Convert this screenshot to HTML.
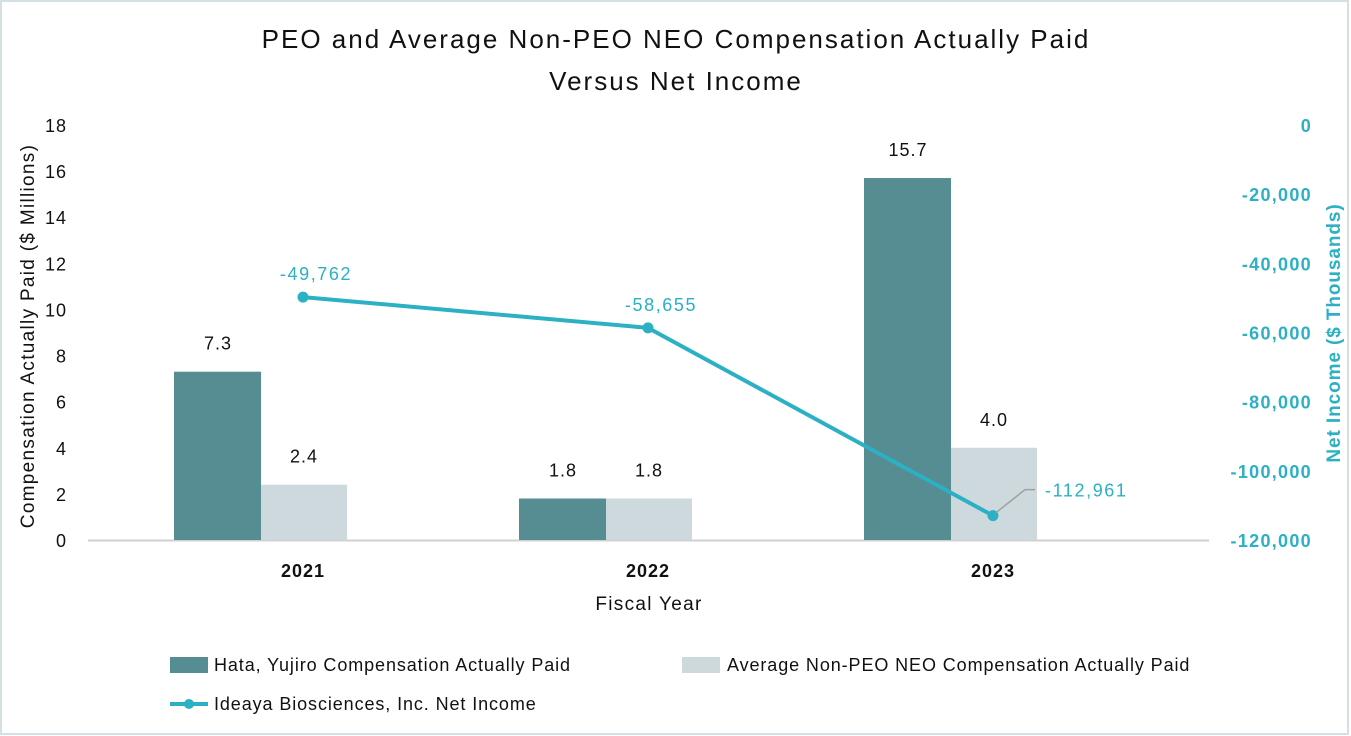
<!DOCTYPE html>
<html><head><meta charset="utf-8"><style>
body{margin:0;background:#fff;}
svg{display:block;font-family:"Liberation Sans",Arial,sans-serif;}
</style></head><body>
<svg id="chart" width="1351" height="736">
<rect x="1" y="1" width="1347" height="733" fill="#fff" stroke="#d5e0e4" stroke-width="2"/>
<text x="676" y="48" text-anchor="middle" font-size="26" letter-spacing="2" fill="#111">PEO and Average Non-PEO NEO Compensation Actually Paid</text>
<text x="676" y="90" text-anchor="middle" font-size="26" letter-spacing="2" fill="#111">Versus Net Income</text>
<g id="plot"></g>
<text x="0" y="0" transform="translate(34,336) rotate(-90)" text-anchor="middle" font-size="19" letter-spacing="1.3" fill="#111">Compensation Actually Paid ($ Millions)</text>
<text x="0" y="0" transform="translate(1340,333) rotate(-90)" text-anchor="middle" font-size="19" letter-spacing="0.9" font-weight="bold" fill="#2bb0c4">Net Income ($ Thousands)</text>
<text x="649" y="610" text-anchor="middle" font-size="19" letter-spacing="1.3" fill="#111">Fiscal Year</text>
<g font-size="18" letter-spacing="0.9">
<rect x="170" y="657" width="38" height="16" fill="#568d93"/>
<text x="214" y="671" fill="#111">Hata, Yujiro Compensation Actually Paid</text>
<rect x="682" y="657" width="38" height="16" fill="#cdd9dd"/>
<text x="727" y="671" fill="#111">Average Non-PEO NEO Compensation Actually Paid</text>
<line x1="170" y1="704" x2="208" y2="704" stroke="#2bb0c4" stroke-width="4"/>
<circle cx="189" cy="704" r="5" fill="#2bb0c4"/>
<text x="214" y="710" fill="#111">Ideaya Biosciences, Inc.  Net Income</text>
</g>
</svg>
<script>
const categories=["2021","2022","2023"];
const peoValues=[7.3,1.8,15.7];
const neoValues=[2.4,1.8,4.0];
const netIncome=[-49762,-58655,-112961];
const leftTicks=[0,2,4,6,8,10,12,14,16,18];
const rightTicks=[0,-20000,-40000,-60000,-80000,-100000,-120000];
const NS="http://www.w3.org/2000/svg";
const g=document.getElementById("plot");
function yL(v){return 540-v*(415/18);}
function yR(v){return 125+(-v)*(415/120000);}
function xC(i){return 303+345*i;}
function mk(t,a,txt){const e=document.createElementNS(NS,t);for(const k in a)e.setAttribute(k,a[k]);if(txt!=null)e.textContent=txt;g.appendChild(e);return e;}
leftTicks.forEach(v=>{const e=mk("text",{x:67,y:yL(v)+7,"text-anchor":"end","font-size":18,"letter-spacing":1,fill:"#111"},String(v));

});
rightTicks.forEach(v=>{const e=mk("text",{x:1312,y:yR(v)+7,"text-anchor":"end","font-size":18,"letter-spacing":1.3,"font-weight":"bold",fill:"#2bb0c4"},v.toLocaleString("en-US"));

});
const base=mk("line",{x1:88,y1:540.5,x2:1209,y2:540.5,stroke:"#d0d0d0","stroke-width":2});


categories.forEach((c,i)=>{
 const x=xC(i);
 const b1=mk("rect",{x:x-129,y:yL(peoValues[i]),width:87,height:540-yL(peoValues[i]),fill:"#568d93"});
 
 
 const b2=mk("rect",{x:x-42,y:yL(neoValues[i]),width:86,height:540-yL(neoValues[i]),fill:"#cdd9dd"});
 
 
 const l1=mk("text",{x:x-85,y:yL(peoValues[i])-22,"text-anchor":"middle","font-size":18,"letter-spacing":1,fill:"#111"},peoValues[i].toFixed(1));
 
 
 const l2=mk("text",{x:x+1,y:yL(neoValues[i])-22,"text-anchor":"middle","font-size":18,"letter-spacing":1,fill:"#111"},neoValues[i].toFixed(1));
 
 
 const xl=mk("text",{x:x,y:577,"text-anchor":"middle","font-size":18,"letter-spacing":1,"font-weight":"bold",fill:"#111"},c);
 
 
});
const pts=netIncome.map((v,i)=>xC(i)+","+yR(v)).join(" ");
const pl=mk("polyline",{points:pts,fill:"none",stroke:"#2bb0c4","stroke-width":4,"stroke-linejoin":"round"});


netIncome.forEach((v,i)=>{
 const x=xC(i),y=yR(v);
 const c=mk("circle",{cx:x,cy:y,r:5.5,fill:"#2bb0c4"});
 
 
 let lx=x+13,ly=y-17,anchor="middle";
 if(i===netIncome.length-1){
  const ld=mk("polyline",{points:`${x+3},${y-3} ${x+32},${y-26} ${x+42},${y-26}`,fill:"none",stroke:"#a0a0a0","stroke-width":1.5});
  
  
  lx=x+52;ly=y-19;anchor="start";
 }
 const t=mk("text",{x:lx,y:ly,"text-anchor":anchor,"font-size":18,"letter-spacing":1.6,fill:"#2bb0c4"},v.toLocaleString("en-US"));
 
 
});
</script>
</body></html>
